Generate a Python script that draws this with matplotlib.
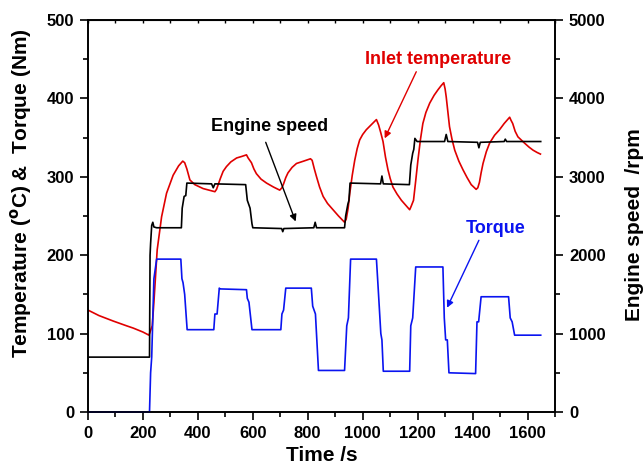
# Engine test: inlet temperature, torque and engine speed vs time
import matplotlib
matplotlib.use('Agg')
import matplotlib.pyplot as plt
from matplotlib.ticker import MultipleLocator

plt.rcParams['font.family'] = ['Liberation Sans', 'DejaVu Sans']
plt.rcParams['font.weight'] = 'bold'

# Inlet temperature (left axis, oC)
temp_t = [0, 40, 92, 140, 165, 200, 222, 228, 234, 240, 252, 268, 286, 310, 330, 345, 352, 360,
          371, 389, 419, 462, 468, 474, 482, 492, 504, 520, 541, 560, 577, 583, 595, 604, 613,
          630, 650, 675, 698, 706, 712, 720, 728, 743, 759, 785, 810, 816, 824, 832, 843, 856,
          872, 892, 912, 934, 940, 947, 953, 962, 971, 980, 989, 1000, 1013, 1030, 1050, 1058,
          1066, 1074, 1083, 1092, 1100, 1110, 1125, 1141, 1156, 1171, 1176, 1185, 1193, 1201,
          1210, 1219, 1230, 1244, 1260, 1274, 1285, 1295, 1300, 1304, 1310, 1316, 1325, 1335,
          1350, 1365, 1380, 1395, 1413, 1419, 1425, 1431, 1438, 1450, 1462, 1480, 1498, 1515,
          1535, 1540, 1546, 1555, 1565, 1577, 1589, 1605, 1620, 1635, 1647]
temp_v = [130, 123, 116, 110, 107, 102, 98, 104, 110, 140, 207, 249, 279, 302, 314, 320, 318, 310,
          296, 290, 285, 281, 284, 290, 298, 307, 313, 319, 324, 326, 328, 324, 318, 310, 304,
          297, 292, 287, 283, 286, 291, 299, 305, 312, 317, 320, 323, 321, 310, 300, 287, 275,
          266, 258, 250, 242, 246, 260, 279, 302, 321, 336, 347, 354, 360, 366, 373, 366,
          356, 345, 325, 309, 298, 287, 278, 270, 264, 258, 262, 270, 295, 321,
          347, 368, 382, 394, 404, 411, 416, 420, 412, 402, 383, 364, 348, 334,
          320, 309, 299, 290, 284, 286, 293, 305, 317, 332, 343, 353, 360, 368,
          376, 372, 368, 358, 351, 347, 343, 338, 334, 331, 329]

# Torque (left axis, Nm)
torque_t = [0, 224, 228, 232, 240, 250, 338, 342, 346, 352, 361, 458, 462, 470, 478, 481, 577,
            580, 586, 597, 702, 706, 712, 720, 813, 818, 828, 839, 934, 942, 948, 956, 1050,
            1056, 1066, 1070, 1075, 1171, 1175, 1182, 1193, 1292, 1297, 1302, 1308, 1314,
            1411, 1416, 1422, 1431, 1531, 1537, 1544, 1553, 1648]
torque_v = [0, 0, 50, 70, 170, 195, 195, 170, 165, 150, 105, 105, 125, 125, 158, 157, 156,
            145, 140, 105, 105, 125, 130, 158, 158, 135, 125, 53, 53, 110, 120, 195, 195,
            160, 100, 92, 52, 52, 110, 120, 185, 185, 120, 92, 92, 50,
            49, 115, 115, 147, 147, 120, 115, 98, 98]

# Engine speed (right axis, rpm)
speed_t = [0, 224, 226, 228, 232, 236, 240, 250, 340, 343, 350, 356, 360, 450, 456, 462, 574,
           580, 590, 597, 600, 705, 709, 713, 822, 827, 832, 934, 938, 946, 950, 954, 1065,
           1070, 1075, 1170, 1175, 1182, 1186, 1190, 1198, 1298, 1304, 1310, 1418, 1423,
           1428, 1515, 1519, 1524, 1648]
speed_v = [700, 700, 2000, 2150, 2380, 2420, 2360, 2350, 2350, 2600, 2750, 2760, 2920, 2910,
           2860, 2910, 2900, 2700, 2600, 2400, 2350, 2340, 2300, 2340, 2350, 2420, 2350, 2350,
           2500, 2650, 2700, 2920, 2910, 3010, 2910, 2900, 3150, 3300, 3350, 3490, 3450, 3450,
           3540, 3450, 3440, 3370, 3440, 3450, 3480, 3450, 3450]

fig = plt.figure(figsize=(6.44, 4.74), dpi=100)
ax = fig.add_axes([0.1366, 0.1308, 0.7252, 0.827])
ax2 = ax.twinx()

ax.plot(temp_t, temp_v, color='#e00000', lw=1.2)
ax.plot(torque_t, torque_v, color='#0a14f0', lw=1.2, clip_on=False, zorder=3)
ax2.plot(speed_t, speed_v, color='black', lw=1.2)

ax.set_xlim(0, 1700)
ax.set_ylim(0, 500)
ax2.set_ylim(0, 5000)

ax.xaxis.set_major_locator(MultipleLocator(200))
ax.xaxis.set_minor_locator(MultipleLocator(100))
ax.yaxis.set_major_locator(MultipleLocator(100))
ax.yaxis.set_minor_locator(MultipleLocator(50))
ax2.yaxis.set_major_locator(MultipleLocator(1000))
ax2.yaxis.set_minor_locator(MultipleLocator(500))
ax.set_xticks(range(0, 1601, 200))

for a in (ax, ax2):
    a.tick_params(which='major', direction='out', length=6, width=1.2, labelsize=12, pad=4)
    a.tick_params(which='minor', direction='out', length=3.5, width=1.2)
    for s in a.spines.values():
        s.set_linewidth(1.2)
ax.tick_params(right=False, top=False, which='both')

top = ax.secondary_xaxis('top')
top.set_xticks(range(0, 1701, 100))
top.tick_params(direction='in', length=2, width=1, labeltop=False)

ax.set_xlabel('Time /s', fontsize=15, fontweight='bold', labelpad=4)
ax.set_ylabel('Temperature ($\\mathbf{^{o}}$C) &  Torque (Nm)', fontsize=15, fontweight='bold')
ax.yaxis.set_label_coords(-0.115, 0.557)
ax2.set_ylabel('Engine speed  /rpm', fontsize=15, fontweight='bold')
ax2.yaxis.set_label_coords(1.15, 0.477)

arrow = dict(arrowstyle='-|>', lw=1.0, mutation_scale=10, shrinkA=0, shrinkB=0)

ax.text(662, 364, 'Engine speed', fontsize=13, fontweight='bold', ha='center', va='center')
ax.annotate('', xy=(756, 243), xytext=(647, 344), arrowprops=dict(arrow, color='black'))

ax.text(1274, 449, 'Inlet temperature', fontsize=13, fontweight='bold', color='#e00000',
        ha='center', va='center')
ax.annotate('', xy=(1080, 349), xytext=(1195, 434), arrowprops=dict(arrow, color='#e00000'))

ax.text(1484, 234, 'Torque', fontsize=13, fontweight='bold', color='#0a14f0',
        ha='center', va='center')
ax.annotate('', xy=(1307, 133), xytext=(1423, 219), arrowprops=dict(arrow, color='#0a14f0'))

plt.savefig('out.png', dpi=100)
